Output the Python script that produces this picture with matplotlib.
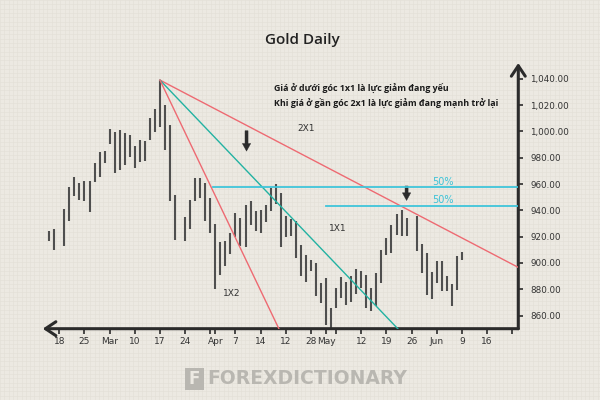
import numpy as np
import matplotlib.pyplot as plt

# daily bars, x = trading-day index from Feb 18
days = [-2, -1, 1, 2, 3, 4, 5, 6, 7, 8, 9, 10, 11, 12, 13, 14, 15, 16, 17, 18, 19,
        20, 21, 22, 23, 25, 26, 27, 28, 29, 30, 31, 32, 33, 34, 35, 36, 37, 38, 39,
        40, 41, 42, 43, 44, 45, 46, 47, 48, 49, 50, 51, 52, 53, 54, 55, 56, 57, 58,
        59, 60, 61, 62, 63, 64, 65, 66, 67, 68, 69, 71, 72, 73, 74, 75, 76, 77, 78,
        79, 80]
highs = [924.5, 925.7, 940.9, 957.6, 965.2, 960.7, 962.4, 962.4, 975.6, 984.0, 985.2,
         1001.7, 999.5, 1001.2, 998.7, 997.4, 989.0, 993.4, 992.8, 1010.1, 1017.0,
         1039.0, 1020.2, 1005.0, 951.8, 935.3, 948.0, 964.5, 964.5, 960.7, 949.3,
         929.6, 916.0, 917.0, 922.7, 938.0, 934.1, 944.2, 946.8, 939.5,
         940.4, 944.2, 956.9, 960.0, 953.1, 935.8, 933.3, 931.5, 913.8, 906.0,
         901.9, 899.8, 884.6, 888.4, 865.6, 880.8, 889.5, 885.8, 890.0,
         895.2, 894.2, 891.0, 880.8, 892.2, 910.0, 918.8, 928.9, 937.1, 940.4, 934.1,
         935.8, 914.5, 907.9, 893.0, 901.1, 901.1, 890.0, 883.9, 905.4, 908.2]
lows = [916.3, 910.0, 913.2, 932.0, 951.0, 947.5, 947.2, 939.1, 961.9, 965.7, 975.9,
        990.3, 968.0, 970.3, 974.6, 980.9, 972.1, 976.6, 977.6, 993.6, 999.9,
        1003.5, 986.0, 947.0, 917.6, 917.0, 925.5, 947.0, 949.5, 932.0, 922.7,
        880.5, 891.0, 898.0, 907.0, 919.5, 912.5, 912.0, 929.0, 924.0,
        922.5, 931.0, 939.8, 945.0, 912.0, 919.5, 920.3, 904.0, 889.7, 885.5,
        894.2, 875.0, 869.4, 852.9, 850.6, 866.0, 873.5, 868.1, 870.6,
        876.5, 880.8, 865.6, 863.8, 866.9, 884.6, 906.2, 907.4, 921.4, 920.6, 920.1,
        908.7, 892.7, 875.7, 872.7, 884.6, 878.3, 879.0, 867.4, 879.5, 902.4]

tick_days = [0, 5, 10, 15, 20, 25, 30, 31, 35, 40, 45, 50, 53, 55, 60, 65, 70, 75, 80, 85, 90]
tick_labels = ['18', '25', 'Mar', '10', '17', '24', '', 'Apr', '7', '14', '12',
               '28', 'May', '', '12', '19', '26', 'Jun', '9', '16', '']
price_ticks = list(range(860, 1041, 20))

# Gann fan from the top
pivot_day = 20
pivot_price = 1039.0
fan_slopes = [2, 4, 8]
fan_names = ['2X1', '1X1', '1X2']
fan_colors = ['#ee6a72', '#22b2a2', '#ee6a72']
fan_label_xy = [(49.0, 1002), (55.4, 926), (34.3, 876.5)]

# 50% levels
levels = [957.6, 943.4]
level_start = [30.5, 53.0]

down_arrows = [(37.2, 1000.5, 985.0), (69.0, 958.5, 947.5)]

note_lines = ['Giá ở dưới góc 1x1 là lực giảm đang yếu',
              'Khi giá ở gần góc 2x1 là lực giảm đang mạnh trở lại']

bg = '#ece9e2'
dark = '#2b2b2b'

fig = plt.figure(figsize=(6, 4), dpi=100, facecolor=bg)

# faint graph-paper grid
gax = fig.add_axes([0, 0, 1, 1], zorder=-1)
gax.set_xlim(0, 600)
gax.set_ylim(400, 0)
gax.axis('off')
for g in np.arange(0, 600, 4.3):
    gax.axvline(g, color='#e3dfd7', lw=0.4)
for g in np.arange(0, 400, 4.3):
    gax.axhline(g, color='#e3dfd7', lw=0.4)

ax = fig.add_axes([42.7 / 600, 1 - 328.7 / 400, (518.3 - 42.7) / 600, (328.7 - 63) / 400])
ax.set_facecolor('none')
ax.set_xlim(-3.3, 91.2)
ax.set_ylim(850, 1052)
for s in ax.spines.values():
    s.set_visible(False)

ax.vlines(days, lows, highs, color='#4f4f4f', lw=1.5, zorder=3)

xs = np.array([pivot_day, 92])
for k, name, c, (lx, ly) in zip(fan_slopes, fan_names, fan_colors, fan_label_xy):
    ax.plot(xs, pivot_price - k * (xs - pivot_day), color=c, lw=1.0, zorder=4)
    ax.text(lx, ly, name, fontsize=6.5, color='#333333', ha='center', va='center')

for lv, st in zip(levels, level_start):
    ax.plot([st, 91.2], [lv, lv], color='#3fc5da', lw=1.3, zorder=4)
    ax.text(76.2, lv + 4.2, '50%', fontsize=7, color='#3cc3d8', ha='center', va='center')

for x, y0, y1 in down_arrows:
    ax.annotate('', xy=(x, y1), xytext=(x, y0),
                arrowprops=dict(arrowstyle='simple,head_length=0.55,head_width=0.6,tail_width=0.22',
                                fc=dark, ec=dark, lw=0.3, shrinkA=0, shrinkB=0))

for i, line in enumerate(note_lines):
    ax.text(42.6, 1032.4 - 11.4 * i, line, fontsize=6.4, fontweight='bold',
            family=['Open Sans', 'DejaVu Sans'], color='#1a1a1a', va='center')

# axes with arrow heads
ax.annotate('', xy=(0, 0), xytext=(1, 0), xycoords='axes fraction', annotation_clip=False,
            arrowprops=dict(arrowstyle='->,head_length=0.75,head_width=0.5', lw=2.2,
                            color=dark, shrinkA=0, shrinkB=0))
ax.annotate('', xy=(1, 1), xytext=(1, 0), xycoords='axes fraction', annotation_clip=False,
            arrowprops=dict(arrowstyle='->,head_length=0.75,head_width=0.5', lw=2.2,
                            color=dark, shrinkA=0, shrinkB=0))

ax.set_xticks(tick_days)
ax.set_xticklabels(tick_labels)
ax.yaxis.tick_right()
ax.set_yticks(price_ticks)
ax.set_yticklabels([f'{p:,.2f}' for p in price_ticks])
ax.tick_params(axis='x', length=3.5, width=1.2, color=dark, pad=2.5, labelsize=6.5,
               labelcolor='#333333')
ax.tick_params(axis='y', length=3.5, width=1.2, color=dark, pad=5, labelsize=6.3,
               labelcolor='#333333')

fig.text(0.504, 0.9, 'Gold Daily', fontsize=11, family=['Open Sans', 'DejaVu Sans'],
         fontweight='semibold', color='#222222', ha='center', va='center')

# watermark
fig.text(207 / 600, 1 - 378 / 400, 'FOREXDICTIONARY', fontsize=13.5, fontweight='bold',
         color='#b9b7b1', ha='left', va='center')
logo = plt.Rectangle((185 / 600, 1 - 390 / 400), 19 / 600, 22 / 400, transform=fig.transFigure,
                     fc='#b9b7b1', ec='none')
fig.patches.append(logo)
fig.text(194.5 / 600, 1 - 379 / 400, 'F', fontsize=12, fontweight='bold', color=bg,
         ha='center', va='center')

fig.savefig('out.png', dpi=100, facecolor=bg)
